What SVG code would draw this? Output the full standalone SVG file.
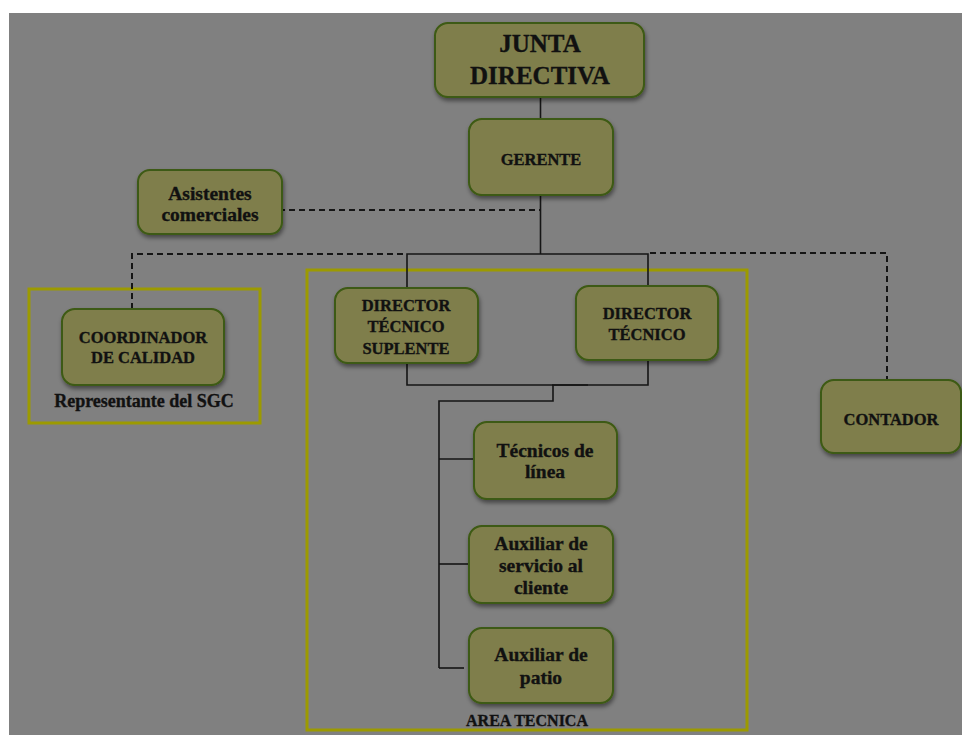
<svg xmlns="http://www.w3.org/2000/svg" width="962" height="735" viewBox="0 0 962 735">
<defs>
<filter id="sh" x="-10%" y="-10%" width="130%" height="140%">
<feDropShadow dx="1" dy="3" stdDeviation="2" flood-color="#000" flood-opacity="0.45"/>
</filter>
</defs>
<style>
.box{fill:#7f7e4b;stroke:#3d5a12;stroke-width:2;filter:url(#sh)}
.frame{fill:none;stroke:#9c9a00;stroke-width:3}
.t{font-family:"Liberation Serif","DejaVu Serif",serif;font-weight:bold;fill:#111;stroke:#111;stroke-width:0.35;text-anchor:middle;dominant-baseline:central}
.c{font-size:16.5px}
.l{font-size:19.5px}
.solid{fill:none;stroke:#151515;stroke-width:1.6}
.dash{fill:none;stroke:#151515;stroke-width:2;stroke-dasharray:6 4}
</style>
<rect x="9" y="13" width="953" height="722" fill="#808080"/>
<g id="frames">
<rect class="frame" x="29" y="289" width="231" height="134"/>
<rect class="frame" x="307" y="270" width="440" height="460"/>
</g>
<g id="connectors">
<path class="solid" d="M540.5 97V120"/>
<path class="solid" d="M540.5 195V254"/>
<path class="dash" d="M279 210H540"/>
<path class="dash" d="M132 309V254H404"/>
<path class="solid" d="M407 288V254H648V286"/>
<path class="dash" d="M650 253H887V382"/>
<path class="solid" d="M407 363V385H648V360"/>
<path class="solid" d="M552 385H588" stroke-width="2.6"/>
<path class="solid" d="M553 385V401H439V668"/>
<path class="solid" d="M439 459H475"/>
<path class="solid" d="M439 564H470"/>
<path class="solid" d="M439 668H464" stroke-width="2.6"/>
</g>
<g id="junta">
<rect class="box" x="435" y="23" width="209" height="74" rx="13"/>
<text class="t" x="540" y="43" font-size="25">JUNTA</text>
<text class="t" x="540" y="75" font-size="25">DIRECTIVA</text>
</g>
<g id="gerente">
<rect class="box" x="469" y="119" width="144" height="76" rx="13"/>
<text class="t c" x="541" y="159">GERENTE</text>
</g>
<g id="asistentes">
<rect class="box" x="138" y="170" width="144" height="64" rx="12"/>
<text class="t l" x="210" y="193">Asistentes</text>
<text class="t l" x="210" y="214">comerciales</text>
</g>
<g id="coordinador">
<rect class="box" x="62" y="309" width="162" height="76" rx="13"/>
<text class="t c" x="143" y="337">COORDINADOR</text>
<text class="t c" x="143" y="357">DE CALIDAD</text>
<text class="t" x="144" y="401" font-size="18">Representante del SGC</text>
</g>
<g id="dt-suplente">
<rect class="box" x="335" y="288" width="143" height="75" rx="13"/>
<text class="t c" x="406" y="305">DIRECTOR</text>
<text class="t c" x="406" y="326">TÉCNICO</text>
<text class="t c" x="406" y="348">SUPLENTE</text>
</g>
<g id="dt">
<rect class="box" x="576" y="286" width="142" height="74" rx="13"/>
<text class="t c" x="647" y="313">DIRECTOR</text>
<text class="t c" x="647" y="334">TÉCNICO</text>
</g>
<g id="contador">
<rect class="box" x="821" y="380" width="140" height="73" rx="13"/>
<text class="t c" x="891" y="419">CONTADOR</text>
</g>
<g id="tecnicos">
<rect class="box" x="474" y="422" width="143" height="77" rx="13"/>
<text class="t l" x="545" y="450">Técnicos de</text>
<text class="t l" x="545" y="471">línea</text>
</g>
<g id="aux-servicio">
<rect class="box" x="469" y="526" width="144" height="77" rx="13"/>
<text class="t l" x="541" y="543">Auxiliar de</text>
<text class="t l" x="541" y="565">servicio al</text>
<text class="t l" x="541" y="587">cliente</text>
</g>
<g id="aux-patio">
<rect class="box" x="469" y="628" width="144" height="75" rx="13"/>
<text class="t l" x="541" y="654">Auxiliar de</text>
<text class="t l" x="541" y="677">patio</text>
</g>
<g id="area-label">
<text class="t" x="527" y="720" font-size="16">AREA TECNICA</text>
</g>
</svg>
